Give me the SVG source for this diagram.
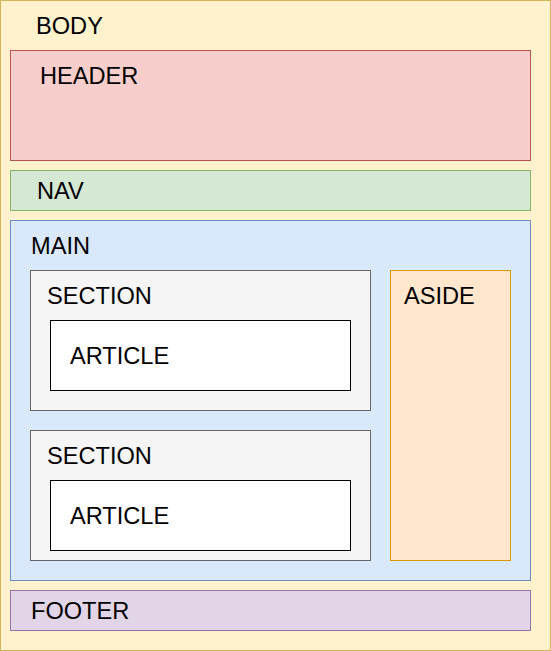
<svg xmlns="http://www.w3.org/2000/svg" width="551" height="651" viewBox="0 0 551 651">
<style>
rect{stroke-width:1}
text{font-family:"Liberation Sans",Arial,Helvetica,sans-serif;font-size:23.6px;fill:#000}
.body{fill:#fff2cc;stroke:#d6b656}
.header{fill:#f8cecc;stroke:#b85450}
.nav{fill:#d5e8d4;stroke:#82b366}
.main{fill:#dae8fc;stroke:#6c8ebf}
.section{fill:#f5f5f5;stroke:#666666}
.article{fill:#ffffff;stroke:#000000}
.aside{fill:#ffe6cc;stroke:#d79b00}
.footer{fill:#e1d5e7;stroke:#9673a6}
</style>
<g id="body"><rect class="body" x="0.5" y="0.5" width="550" height="650"/><text x="36" y="33.5">BODY</text></g>
<g id="header"><rect class="header" x="10.5" y="50.5" width="520" height="110"/><text x="40" y="83.5">HEADER</text></g>
<g id="nav"><rect class="nav" x="10.5" y="170.5" width="520" height="40"/><text x="37" y="198.5">NAV</text></g>
<g id="main"><rect class="main" x="10.5" y="220.5" width="520" height="360"/><text x="31" y="253.5">MAIN</text></g>
<g id="section1"><rect class="section" x="30.5" y="270.5" width="340" height="140"/><text x="47" y="303.5">SECTION</text></g>
<g id="article1"><rect class="article" x="50.5" y="320.5" width="300" height="70"/><text x="70" y="363.5">ARTICLE</text></g>
<g id="section2"><rect class="section" x="30.5" y="430.5" width="340" height="130"/><text x="47" y="463.5">SECTION</text></g>
<g id="article2"><rect class="article" x="50.5" y="480.5" width="300" height="70"/><text x="70" y="523.5">ARTICLE</text></g>
<g id="aside"><rect class="aside" x="390.5" y="270.5" width="120" height="290"/><text x="404" y="303.5">ASIDE</text></g>
<g id="footer"><rect class="footer" x="10.5" y="590.5" width="520" height="40"/><text x="31" y="618.5">FOOTER</text></g>
<g id="connectors"/>
</svg>
